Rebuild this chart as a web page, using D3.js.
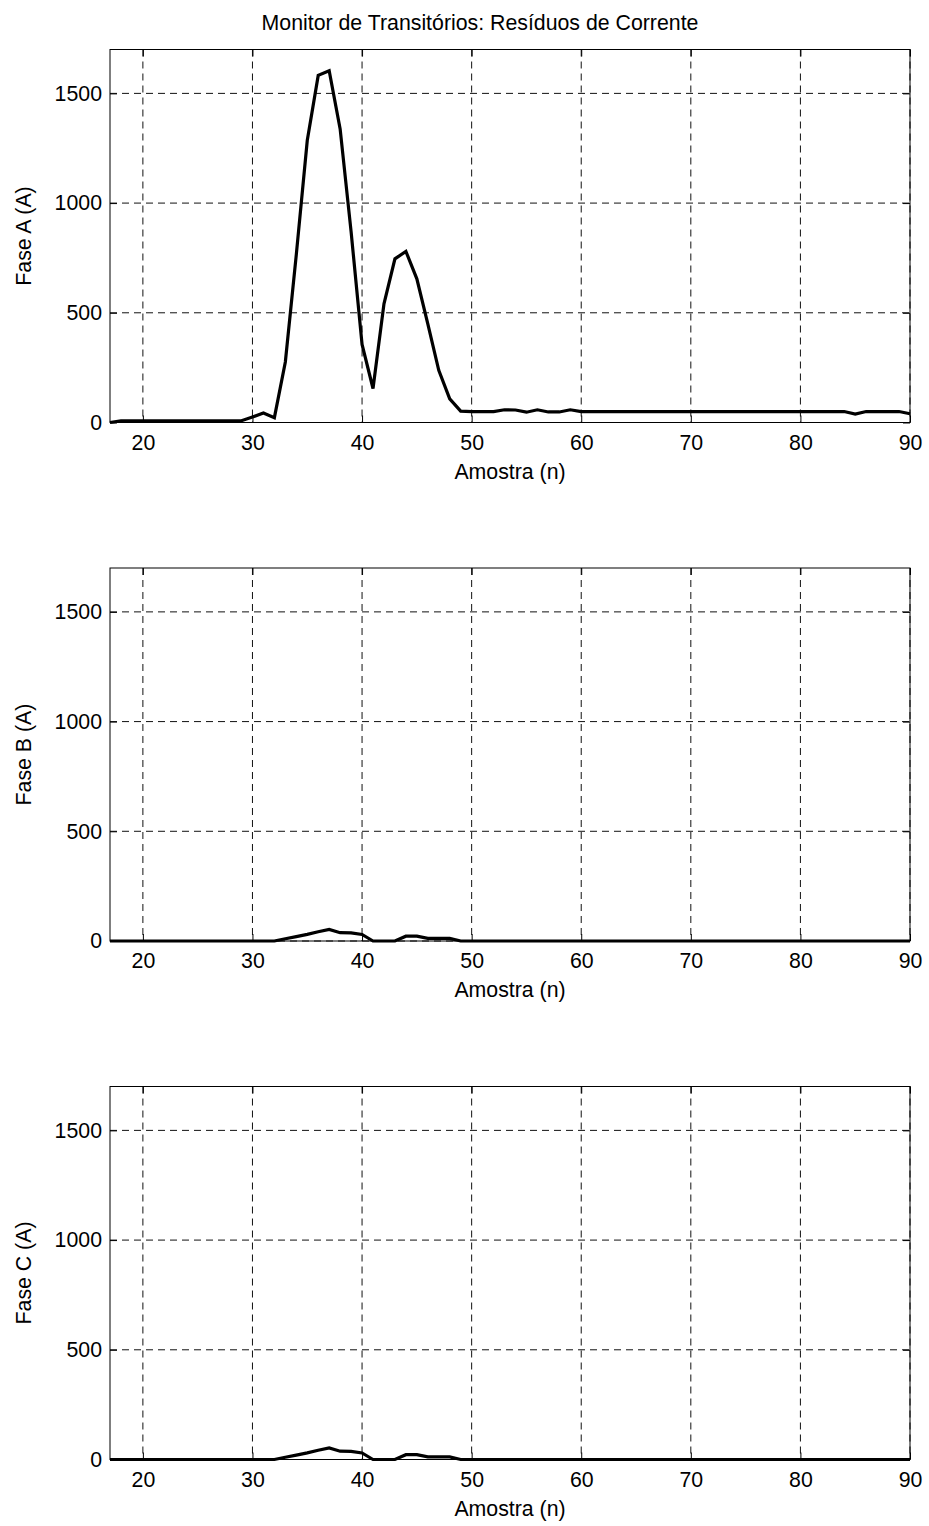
<!DOCTYPE html>
<html>
<head>
<meta charset="utf-8">
<script src="https://cdn.jsdelivr.net/npm/d3@7"></script>
<style>
  body { margin: 0; background: #fff; }
  svg text { font-family: "Liberation Sans", Arial, Helvetica, sans-serif; fill: #000; }
</style>
</head>
<body>
<div id="chart"></div>
<script>
// sample index (n)
var amostra = [17, 18, 19, 20, 21, 22, 23, 24, 25, 26, 27, 28, 29, 30, 31, 32, 33, 34, 35, 36,
  37, 38, 39, 40, 41, 42, 43, 44, 45, 46, 47, 48, 49, 50, 51, 52, 53, 54, 55, 56,
  57, 58, 59, 60, 61, 62, 63, 64, 65, 66, 67, 68, 69, 70, 71, 72, 73, 74, 75, 76,
  77, 78, 79, 80, 81, 82, 83, 84, 85, 86, 87, 88, 89, 90];

// residuos de corrente por fase (A)
var faseA = [0, 8, 8, 8, 8, 8, 8, 8, 8, 8, 8, 8, 8, 25, 43, 22, 276, 765, 1285, 1582,
  1603, 1338, 870, 356, 155, 541, 746, 780, 655, 450, 238, 108, 52, 50, 50, 50, 58, 57, 47, 58,
  48, 48, 58, 50, 50, 50, 50, 50, 50, 50, 50, 50, 50, 50, 50, 50, 50, 50, 50, 50,
  50, 50, 50, 50, 50, 50, 50, 50, 38, 50, 50, 50, 50, 40];

var faseB = [0, 0, 0, 0, 0, 0, 0, 0, 0, 0, 0, 0, 0, 0, 0, 0, 10, 20, 30, 42,
  53, 38, 37, 30, 0, 0, 0, 22, 22, 12, 12, 12, 0, 0, 0, 0, 0, 0, 0, 0,
  0, 0, 0, 0, 0, 0, 0, 0, 0, 0, 0, 0, 0, 0, 0, 0, 0, 0, 0, 0,
  0, 0, 0, 0, 0, 0, 0, 0, 0, 0, 0, 0, 0, 0];

var faseC = [0, 0, 0, 0, 0, 0, 0, 0, 0, 0, 0, 0, 0, 0, 0, 0, 10, 20, 30, 42,
  53, 38, 37, 30, 0, 0, 0, 22, 22, 12, 12, 12, 0, 0, 0, 0, 0, 0, 0, 0,
  0, 0, 0, 0, 0, 0, 0, 0, 0, 0, 0, 0, 0, 0, 0, 0, 0, 0, 0, 0,
  0, 0, 0, 0, 0, 0, 0, 0, 0, 0, 0, 0, 0, 0];

var xTicks = [20, 30, 40, 50, 60, 70, 80, 90];
var yTicks = [0, 500, 1000, 1500];
var labelsY = ["Fase A (A)", "Fase B (A)", "Fase C (A)"];
var title = "Monitor de Transitórios: Resíduos de Corrente";
var labelX = "Amostra (n)";

var W = 929, H = 1526;
var left = 110, right = 910, plotH = 373;
var tops = [49.5, 568, 1086.5];
var fontSize = 21.3;

var svg = d3.select("#chart").append("svg")
  .attr("width", W)
  .attr("height", H);

svg.append("rect").attr("width", W).attr("height", H).attr("fill", "#fff");

var x = d3.scaleLinear().domain([17, 90]).range([0, right - left]);
var y = d3.scaleLinear().domain([0, 1700]).range([plotH, 0]);

svg.append("text")
  .attr("x", 480)
  .attr("y", 30)
  .attr("text-anchor", "middle")
  .style("font-size", fontSize + "px")
  .text(title);

var series = [faseA, faseB, faseC];

series.forEach(function(vals, i) {
  var g = svg.append("g")
    .attr("transform", "translate(" + left + "," + tops[i] + ")");

  // grid
  g.selectAll(".vgrid").data(xTicks).enter().append("line")
    .attr("x1", function(d) { return x(d); })
    .attr("x2", function(d) { return x(d); })
    .attr("y1", 0).attr("y2", plotH)
    .attr("stroke", "#111").attr("stroke-width", 1)
    .attr("stroke-dasharray", "7,5");
  g.selectAll(".hgrid").data(yTicks).enter().append("line")
    .attr("y1", function(d) { return y(d); })
    .attr("y2", function(d) { return y(d); })
    .attr("x1", 0).attr("x2", right - left)
    .attr("stroke", "#111").attr("stroke-width", 1)
    .attr("stroke-dasharray", "7,5");

  // axes, ticks pointing inward
  g.append("g")
    .attr("transform", "translate(0," + plotH + ")")
    .call(d3.axisBottom(x).tickValues(xTicks).tickSize(-7).tickPadding(12).tickSizeOuter(0));
  g.append("g")
    .call(d3.axisLeft(y).tickValues(yTicks).tickFormat(d3.format("d")).tickSize(-7).tickPadding(8).tickSizeOuter(0));
  g.append("g")
    .call(d3.axisTop(x).tickValues(xTicks).tickSize(-7).tickFormat("").tickSizeOuter(0));
  g.append("g")
    .attr("transform", "translate(" + (right - left) + ",0)")
    .call(d3.axisRight(y).tickValues(yTicks).tickSize(-7).tickFormat("").tickSizeOuter(0));

  g.selectAll(".domain").remove();
  g.selectAll(".tick line").attr("stroke", "#000");
  g.selectAll(".tick text").style("font-size", fontSize + "px").attr("fill", "#000");

  g.append("rect")
    .attr("width", right - left).attr("height", plotH)
    .attr("fill", "none").attr("stroke", "#000").attr("stroke-width", 1);

  var line = d3.line()
    .x(function(d, j) { return x(amostra[j]); })
    .y(function(d) { return y(d); });

  g.append("path")
    .datum(vals)
    .attr("d", line)
    .attr("fill", "none")
    .attr("stroke", "#000")
    .attr("stroke-width", 3.2)
    .attr("stroke-linejoin", "miter");

  g.append("text")
    .attr("x", (right - left) / 2)
    .attr("y", plotH + 56)
    .attr("text-anchor", "middle")
    .style("font-size", fontSize + "px")
    .text(labelX);

  g.append("text")
    .attr("transform", "translate(" + (31 - left) + "," + (plotH / 2) + ") rotate(-90)")
    .attr("text-anchor", "middle")
    .style("font-size", fontSize + "px")
    .text(labelsY[i]);
});
</script>
</body>
</html>
